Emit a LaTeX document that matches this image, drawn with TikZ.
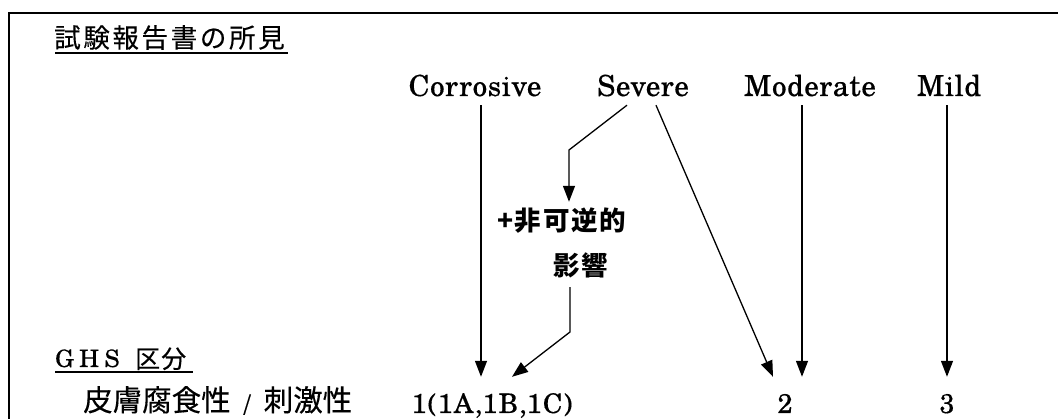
\documentclass[tikz,border=0pt]{standalone}
\usepackage{fontspec}
\setmainfont{texgyreschola}[Extension=.otf, UprightFont=*-regular, BoldFont=*-bold]
\newfontfamily\jp{Noto Sans CJK JP}
\usetikzlibrary{arrows.meta,calc}
\begin{document}
\begin{tikzpicture}[x=1pt,y=-1pt,
  arr/.style={line width=1.3pt,-{Triangle[length=16pt,width=12pt]}},
  frame/.style={line width=2.5pt},
  uline/.style={line width=2pt},
  toplbl/.style={font=\fontsize{29}{29}\selectfont\addfontfeature{LetterSpace=2,FakeBold=0.4},
    inner xsep=0pt, inner ysep=9pt, text depth=0pt, anchor=base},
  catlbl/.style={font=\fontsize{27}{27}\selectfont\addfontfeature{LetterSpace=4,FakeBold=0.4},
    inner xsep=0pt, inner ysep=18pt, text height=18pt, text depth=0pt, anchor=base},
  irrlbl/.style={font=\jp\bfseries\fontsize{26.5}{26.5}\selectfont\addfontfeature{LetterSpace=6},
    inner xsep=0pt, inner ysep=9pt, text height=20pt, text depth=2pt, anchor=base west},
  jptitle/.style={font=\jp\fontsize{26.5}{26.5}\selectfont\addfontfeature{LetterSpace=10,FakeBold=0.3},
    inner sep=0pt, anchor=base west},
  ghslbl/.style={font=\fontsize{24}{24}\selectfont\addfontfeature{LetterSpace=22,FakeBold=0.3},
    inner sep=0pt, anchor=base west},
  jpsub/.style={font=\jp\fontsize{25}{25}\selectfont\addfontfeature{LetterSpace=4,FakeBold=0.3},
    inner sep=0pt, anchor=base west},
  jplbl/.style={font=\jp\fontsize{29.5}{29.5}\selectfont\addfontfeature{FakeBold=0.3},
    inner sep=0pt, anchor=base west}
]
\useasboundingbox (0,0) rectangle (1058,419);
% frame
\draw[frame] (9,419) -- (9,13) -- (1058,13);
% headings
\node[jptitle] (title) at (54,47.5) {試験報告書の所見};
\draw[uline] (55,53.5) -- (288,53.5);
\node[ghslbl] (ghs) at (55,367) {GHS};
\node[jpsub] (kubun) at (135,368) {区分};
\draw[uline] (55,372) -- (193,372);
\node[jplbl] (skin) at (83,411) {皮膚腐食性\makebox[33pt]{\fontsize{21}{21}\selectfont /}刺激性};
% top labels
\node[toplbl] (corr) at (475,96) {Corrosive};
\node[toplbl] (sev) at (643,96) {Severe};
\node[toplbl] (mod) at (810,96) {Moderate};
\node[toplbl] (mild) at (949,96) {Mild};
% middle label
\node[irrlbl] (irrA) at (497,231) {+非可逆的};
\node[irrlbl] (irrB) at (553,276) {影響};
% categories
\node[catlbl] (cat1) at (492,413) {1(1A,1B,1C)};
\node[catlbl] (cat2) at (785,413) {2};
\node[catlbl] (cat3) at (947,413) {3};
% arrows
\draw[arr] (481,0 |- corr.south) -- (481,0 |- cat1.north);
\draw[arr] (627,0 |- sev.south) -- (569,150) -- (569,0 |- irrA.north);
\draw[arr] (570,0 |- irrB.south) -- (570,332) -- (512,0 |- cat1.north);
\draw[arr] (656,0 |- sev.south) -- (773,0 |- cat2.north);
\draw[arr] (802,0 |- mod.south) -- (802,0 |- cat2.north);
\draw[arr] (947,0 |- mild.south) -- (947,0 |- cat3.north);
\end{tikzpicture}
\end{document}
